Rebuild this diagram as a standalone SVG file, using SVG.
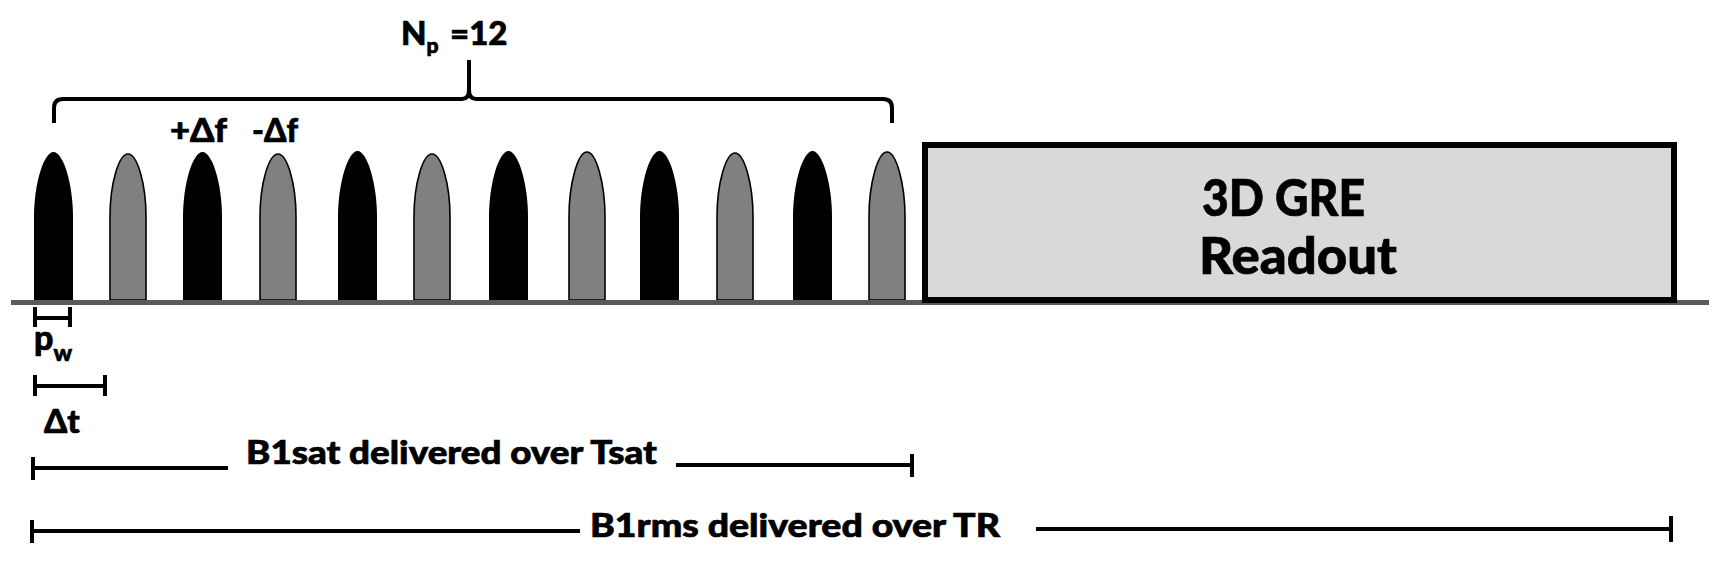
<svg xmlns="http://www.w3.org/2000/svg" width="1728" height="567" viewBox="0 0 1728 567">
<defs>
<style>
.t{font-family:Lato,"Liberation Sans",sans-serif;font-weight:900;fill:#000;stroke:#000;stroke-width:0.7}
.pb{fill:#000}
.pg{fill:#808080;stroke:#000;stroke-width:1.6}
.dim{stroke:#000;stroke-width:4;fill:none}
.br{stroke:#000;stroke-width:4;fill:none;stroke-linejoin:round}
</style>
</defs>
<rect width="1728" height="567" fill="#fff"/>
<g id="pulses">
<path id="p1" class="pb" d="M34 300V217C34 183 44 152 53.5 152C63 152 73 183 73 217V300Z"/>
<path id="p2" class="pg" d="M110 300V217C110 183 119 154 128 154C137 154 146 183 146 217V300Z"/>
<path id="p3" class="pb" d="M183 300V217C183 183 193 152 202.5 152C212 152 222 183 222 217V300Z"/>
<path id="p4" class="pg" d="M260 300V217C260 183 269 154 278 154C287 154 296 183 296 217V300Z"/>
<path id="p5" class="pb" d="M338 300V217C338 183 348 151 357.5 151C367 151 377 183 377 217V300Z"/>
<path id="p6" class="pg" d="M414 300V217C414 183 423 154 432 154C441 154 450 183 450 217V300Z"/>
<path id="p7" class="pb" d="M489 300V217C489 183 499 151 508.5 151C518 151 528 183 528 217V300Z"/>
<path id="p8" class="pg" d="M569 300V217C569 183 578 152 587 152C596 152 605 183 605 217V300Z"/>
<path id="p9" class="pb" d="M640 300V217C640 183 650 151 659.5 151C669 151 679 183 679 217V300Z"/>
<path id="p10" class="pg" d="M717 300V217C717 183 726 153 735 153C744 153 753 183 753 217V300Z"/>
<path id="p11" class="pb" d="M793 300V217C793 183 803 151 812.5 151C822 151 832 183 832 217V300Z"/>
<path id="p12" class="pg" d="M869 300V217C869 183 878 152 887 152C896 152 905 183 905 217V300Z"/>
</g>
<g id="baseline">
<line x1="11" y1="302.5" x2="1709" y2="302.5" stroke="#595959" stroke-width="5"/>
</g>
<g id="readout">
<rect x="925" y="145" width="749" height="155" fill="#d9d9d9" stroke="#000" stroke-width="6"/>
<text class="t" x="1202" y="216" font-size="51" textLength="163" lengthAdjust="spacingAndGlyphs">3D GRE</text>
<text class="t" x="1199" y="274" font-size="51" textLength="198" lengthAdjust="spacingAndGlyphs">Readout</text>
</g>
<g id="labels">
<text class="t" x="401" y="45" font-size="33">N<tspan font-size="21" dy="8">p</tspan><tspan dy="-8" x="450">=12</tspan></text>
<text class="t" x="170" y="142" font-size="32" textLength="57" lengthAdjust="spacingAndGlyphs">+Δf</text>
<text class="t" x="252" y="142" font-size="32" textLength="46" lengthAdjust="spacingAndGlyphs">-Δf</text>
<text class="t" x="34" y="350" font-size="34">p<tspan font-size="23" dy="11">w</tspan></text>
<text class="t" x="44" y="433" font-size="33">Δt</text>
<text class="t" x="246" y="464" font-size="33" textLength="411" lengthAdjust="spacingAndGlyphs">B1sat delivered over Tsat</text>
<text class="t" x="590" y="537" font-size="33" textLength="410" lengthAdjust="spacingAndGlyphs">B1rms delivered over TR</text>
</g>
<g id="connectors">
<path id="brace" class="br" d="M54 123V108Q54 99 63 99H462Q469 99 469 90V60M469 90Q469 99 476 99H883Q892 99 892 108V123"/>
<path id="pw-dim" class="dim" d="M35 307V327M70 307V327M35 318H70"/>
<path id="dt-dim" class="dim" d="M35 375V396M105 375V396M35 386H105"/>
<path id="tsat-dim" class="dim" d="M33 457V480M33 468H228M676 465H912M912 454V477"/>
<path id="tr-dim" class="dim" d="M32 520V543M32 531H580M1036 529H1671M1671 516V542"/>
</g>
</svg>
